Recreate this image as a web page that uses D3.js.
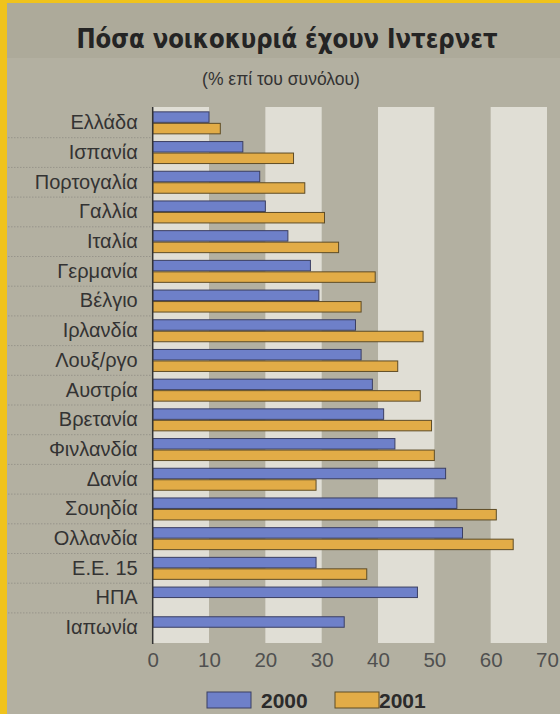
<!DOCTYPE html>
<html><head><meta charset="utf-8">
<script src="https://cdn.jsdelivr.net/npm/d3@7"></script>
<style>html,body{margin:0;padding:0;background:#b3b0a1;}svg{display:block;}</style>
</head><body>
<script>
const categories = ["Ελλάδα","Ισπανία","Πορτογαλία","Γαλλία","Ιταλία","Γερμανία","Βέλγιο","Ιρλανδία","Λουξ/ργο","Αυστρία","Βρετανία","Φινλανδία","Δανία","Σουηδία","Ολλανδία","Ε.Ε. 15","ΗΠΑ","Ιαπωνία"];
const values2000 = [10,16,19,20,24,28,29.5,36,37,39,41,43,52,54,55,29,47,34];
const values2001 = [12,25,27,30.5,33,39.5,37,48,43.5,47.5,49.5,50,29,61,64,38,null,null];
const seriesNames = ["2000","2001"];
const xTicks = [0,10,20,30,40,50,60,70];
const titleText = "Πόσα νοικοκυριά έχουν Ιντερνετ";
const subtitleText = "(% επί του συνόλου)";

const W = 560, H = 714;
const colors = {"2000":"#6e80c9","2001":"#e2ac47"};
const strokes = {"2000":"#3b3f63","2001":"#5e4c26"};

const svg = d3.select("body").append("svg").attr("width",W).attr("height",H);
svg.append("rect").attr("width",W).attr("height",H).attr("fill","#b3b0a1");
svg.append("rect").attr("x",0).attr("y",0).attr("width",W).attr("height",58).attr("fill","#adaa9a");
svg.append("rect").attr("x",0).attr("y",0).attr("width",W).attr("height",3).attr("fill","#f0c31c");
svg.append("rect").attr("x",0).attr("y",0).attr("width",7).attr("height",H).attr("fill","#f0c31c");

svg.append("text").attr("x",287).attr("y",48).attr("text-anchor","middle")
  .attr("font-family","'DejaVu Sans Condensed','DejaVu Sans',sans-serif").attr("font-weight","bold")
  .attr("font-size",27).attr("fill","#242424")
  .attr("textLength",421).attr("lengthAdjust","spacingAndGlyphs").text(titleText);
svg.append("text").attr("x",281).attr("y",85).attr("text-anchor","middle")
  .attr("font-family","'Liberation Sans',Arial,sans-serif").attr("font-size",17.5)
  .attr("fill","#333").text(subtitleText);

const x = d3.scaleLinear().domain([0,70]).range([152.7,547]);
const y = d3.scaleBand().domain(categories).range([108,642.6]).paddingInner(0.226).paddingOuter(0.113);
const ySub = d3.scaleBand().domain(seriesNames).range([0,y.bandwidth()]);

const bandStarts = xTicks.filter((t,i)=> i%2===0 && t<70);
svg.append("g").selectAll("rect").data(bandStarts).join("rect")
  .attr("x",d=>x(d)).attr("width",d=>x(d+10)-x(d))
  .attr("y",107).attr("height",643-107).attr("fill","#e0ded5");

const seps = categories.slice(1).map(c=>y(c)-y.step()*y.paddingInner()/2);
svg.append("g").selectAll("line").data(seps).join("line")
  .attr("x1",8).attr("x2",x(0)).attr("y1",d=>d).attr("y2",d=>d)
  .attr("stroke","#97948a").attr("stroke-width",1).attr("stroke-dasharray","1.5,1.5");

const rows = categories.map((c,i)=>({c, vals:[{s:"2000",v:values2000[i]},{s:"2001",v:values2001[i]}]}));
const g = svg.append("g").selectAll("g").data(rows).join("g")
  .attr("transform",d=>`translate(0,${y(d.c)})`);
g.selectAll("rect").data(d=>d.vals.filter(e=>e.v!=null)).join("rect")
  .attr("x",x(0)).attr("y",d=>ySub(d.s)+0.5).attr("height",ySub.bandwidth()-1)
  .attr("width",d=>x(d.v)-x(0))
  .attr("fill",d=>colors[d.s]).attr("stroke",d=>strokes[d.s]).attr("stroke-width",1);

const yAxis = svg.append("g").attr("transform",`translate(${x(0)},0)`)
  .call(d3.axisLeft(y).tickSize(0).tickPadding(15));
yAxis.select(".domain").remove();
yAxis.selectAll("text").attr("font-family","'Liberation Sans',Arial,sans-serif").attr("font-size",20).attr("fill","#333");
svg.append("line").attr("x1",x(0)).attr("x2",x(0)).attr("y1",107).attr("y2",644)
  .attr("stroke","#333").attr("stroke-width",1.5);

const xAxis = svg.append("g").attr("transform","translate(0,643)")
  .call(d3.axisBottom(x).tickValues(xTicks).tickSize(0).tickPadding(9));
xAxis.select(".domain").remove();
xAxis.selectAll("text").attr("font-family","'Liberation Sans',Arial,sans-serif").attr("font-size",20.5).attr("fill","#505050");

const legend = [{s:"2000",x:207,tx:261},{s:"2001",x:335,tx:379}];
const lg = svg.append("g").selectAll("g").data(legend).join("g");
lg.append("rect").attr("x",d=>d.x).attr("y",692).attr("width",44).attr("height",16)
  .attr("fill",d=>colors[d.s]).attr("stroke",d=>strokes[d.s]).attr("stroke-width",1);
lg.append("text").attr("x",d=>d.tx).attr("y",708).text(d=>d.s)
  .attr("font-family","'Liberation Sans',Arial,sans-serif").attr("font-weight","bold").attr("font-size",21).attr("fill","#2b2b2b");
</script>
</body></html>
